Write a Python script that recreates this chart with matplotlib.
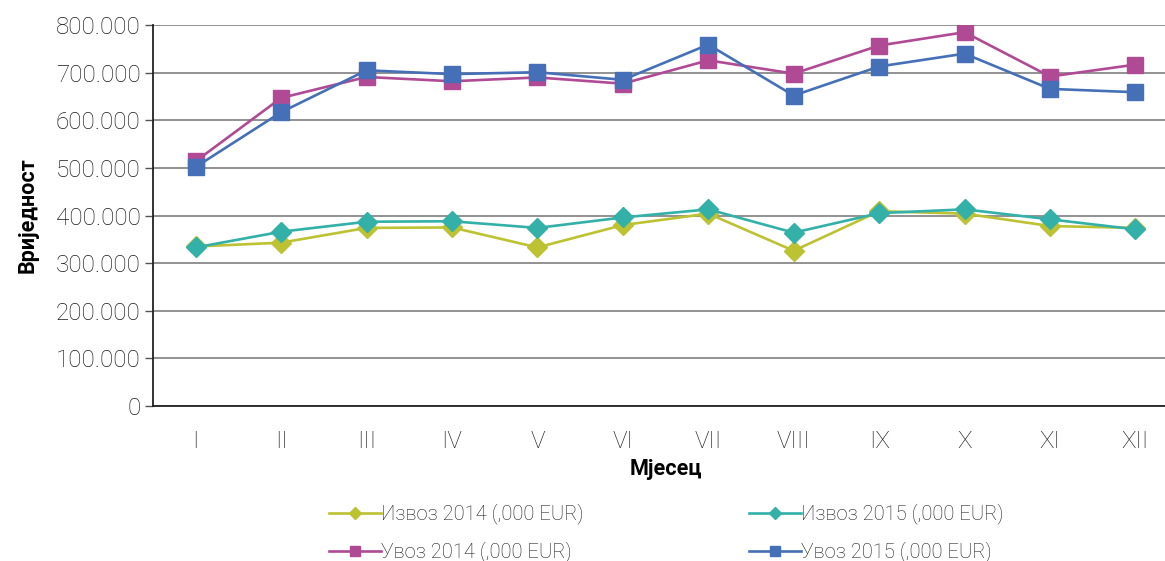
import matplotlib
matplotlib.use("Agg")
import matplotlib.pyplot as plt
from matplotlib.ticker import FuncFormatter

months = ["I", "II", "III", "IV", "V", "VI", "VII", "VIII", "IX", "X", "XI", "XII"]

izvoz_2014 = [335000, 343000, 374000, 375000, 333000, 380000, 404000, 326000, 409000, 404000, 378000, 374000]
izvoz_2015 = [333000, 366000, 387000, 388000, 374000, 396000, 413000, 364000, 405000, 413000, 392000, 371000]
uvoz_2014 = [514000, 647000, 691000, 682000, 690000, 677000, 726000, 698000, 757000, 785000, 692000, 717000]
uvoz_2015 = [502000, 617000, 705000, 697000, 701000, 685000, 759000, 652000, 713000, 740000, 666000, 659000]

y_ticks = [0, 100000, 200000, 300000, 400000, 500000, 600000, 700000, 800000]

YELLOW = "#bcc232"
TEAL = "#33b0a8"
MAGENTA = "#b04a94"
BLUE = "#4570b8"
TXT = "#1a1a1a"

plt.rcParams["font.family"] = ["Roboto", "DejaVu Sans"]

fig = plt.figure(figsize=(11.65, 5.61), dpi=100)
ax = fig.add_axes([0.1313, 0.2763, 0.880, 0.679])

x = list(range(len(months)))
ax.plot(x, izvoz_2014, color=YELLOW, lw=1.9, marker="D", ms=10, mec=YELLOW,
        label="Извоз 2014 (,000 EUR)", zorder=3)
ax.plot(x, uvoz_2014, color=MAGENTA, lw=1.9, marker="s", ms=11, mec=MAGENTA,
        label="Увоз 2014 (,000 EUR)", zorder=3)
ax.plot(x, izvoz_2015, color=TEAL, lw=1.9, marker="D", ms=10, mec=TEAL,
        label="Извоз 2015 (,000 EUR)", zorder=4)
ax.plot(x, uvoz_2015, color=BLUE, lw=1.9, marker="s", ms=11, mec=BLUE,
        label="Увоз 2015 (,000 EUR)", zorder=4)

ax.set_xlim(-0.5, len(months) - 0.5)
ax.set_ylim(0, 800000)
ax.set_yticks(y_ticks)
ax.yaxis.set_major_formatter(FuncFormatter(lambda v, p: f"{int(v):,}".replace(",", ".")))
ax.set_xticks(x)
ax.set_xticklabels(months)
ax.grid(axis="y", color="#7f7f7f", lw=1.2)
ax.set_axisbelow(True)

for s in ["top", "right"]:
    ax.spines[s].set_visible(False)
ax.spines["left"].set_color("#222222")
ax.spines["bottom"].set_color("#222222")
ax.spines["left"].set_linewidth(1.3)
ax.spines["bottom"].set_linewidth(1.3)

ax.tick_params(axis="y", length=6, width=1, color="#555555", labelsize=17.5,
               labelcolor=TXT, pad=3)
ax.tick_params(axis="x", length=0, labelsize=17.5, labelcolor=TXT, pad=17)
for lbl in ax.get_yticklabels() + ax.get_xticklabels():
    lbl.set_fontweight("light")

ax.set_ylabel("Вриједност", fontsize=15.5, fontweight="bold", color="black", labelpad=12)
ax.set_xlabel("Мјесец", fontsize=15.5, fontweight="bold", color="black", labelpad=4)

leg = fig.legend(loc="center", bbox_to_anchor=(0.572, 0.050), ncol=2, frameon=False,
                 fontsize=14.5, handlelength=2.6, columnspacing=8.2, markerscale=0.6,
                 labelspacing=0.85, handletextpad=0.0)
for t in leg.get_texts():
    t.set_color(TXT)
    t.set_fontweight("light")

fig.savefig("out.png", dpi=100, facecolor="white")
